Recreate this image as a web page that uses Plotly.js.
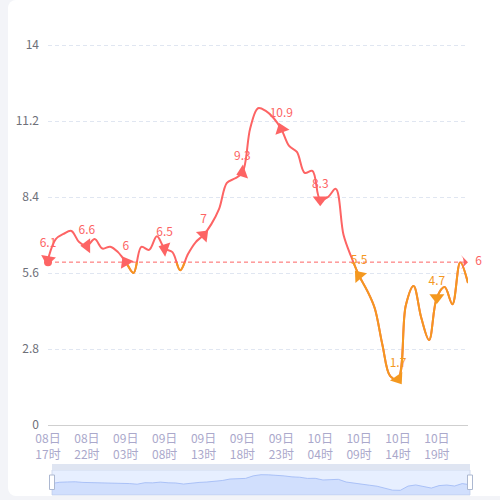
<!DOCTYPE html>
<html><head><meta charset="utf-8">
<script src="https://cdn.plot.ly/plotly-3.0.1.min.js"></script>
<style>
html,body{margin:0;padding:0;width:500px;height:500px;background:#f3f4f8;overflow:hidden}
#card{position:absolute;left:8px;top:0;width:520px;height:496px;background:#fff;border-radius:8px}
#chart{position:absolute;left:0;top:0;width:500px;height:500px}
</style></head><body>
<div id="card"></div><div id="chart"></div>
<script>
// ---------- data ----------
const categories = [
 "08日17时","08日18时","08日19时","08日20时","08日21时","08日22时","08日23时",
 "09日00时","09日01时","09日02时","09日03时","09日04时","09日05时","09日06时","09日07时",
 "09日08时","09日09时","09日10时","09日11时","09日12时","09日13时","09日14时","09日15时",
 "09日16时","09日17时","09日18时","09日19时","09日20时","09日21时","09日22时","09日23时",
 "10日00时","10日01时","10日02时","10日03时","10日04时","10日05时","10日06时","10日07时",
 "10日08时","10日09时","10日10时","10日11时","10日12时","10日13时","10日14时","10日15时",
 "10日16时","10日17时","10日18时","10日19时","10日20时","10日21时","10日22时","10日23时"
];
const values = [
 6.1, 6.85, 7.04, 7.15, 6.74, 6.6, 6.85, 6.5, 6.57, 6.37,
 6.0, 5.6, 6.56, 6.45, 6.95, 6.5, 6.37, 5.7, 6.3, 6.74,
 7.0, 7.4, 7.96, 8.92, 9.08, 9.3, 10.93, 11.67, 11.57, 11.31,
 10.9, 10.28, 10.06, 9.29, 9.36, 8.3, 8.4, 8.7, 7.0, 6.19,
 5.5, 4.97, 4.31, 2.95, 1.8, 1.7, 4.4, 5.12, 3.94, 3.13,
 4.7, 5.08, 4.45, 6.0, 5.23
];
const tickCategories = ["08日17时","08日22时","09日03时","09日08时","09日13时","09日18时",
 "09日23时","10日04时","10日09时","10日14时","10日19时"];
const tickLabels = ["08日<br>17时","08日<br>22时","09日<br>03时","09日<br>08时","09日<br>13时","09日<br>18时",
 "09日<br>23时","10日<br>04时","10日<br>09时","10日<br>14时","10日<br>19时"];
const markIndex = [0, 5, 10, 15, 20, 25, 30, 35, 40, 45, 50];
const threshold = 6;           // colour split value and dashed mark line value
const yTicks = [0, 2.8, 5.6, 8.4, 11.2, 14];
const yTickLabels = ["0", "2.8", "5.6", "8.4", "11.2", "14"];

// ---------- styles ----------
const arrowAngles = [190, 270, 330, 290, 45, 250, 340, 180, 320, 145, 180];
const RED = '#fd6464', ORANGE = '#f4981f';
const FONT = '"Noto Sans CJK SC", "Noto Sans", sans-serif';
const W = 500, H = 500;
const plotL = 48, plotR = 468, plotT = 45, plotB = 425;
const yMax = yTicks[yTicks.length - 1];
const yTop = yMax * 1.02;                         // small headroom so the top grid line is drawn
const plotTeff = plotB - (plotB - plotT) * yTop / yMax;
const xd = [plotL / W, plotR / W];
const yd = [1 - plotB / H, 1 - plotTeff / H];
const y2top = yd[0] + (yd[1] - yd[0]) * threshold / yTop;
const n = categories.length;

const markX = markIndex.map(i => categories[i]);
const markY = markIndex.map(i => values[i]);
const markText = markY.map(v => String(v));
const markColor = markY.map(v => v >= threshold ? RED : ORANGE);

// slider shadow extent
const vMin = Math.min(...values), vMax = Math.max(...values);
const pad = (vMax - vMin) * 0.3;
const sLo = vMin - pad, sHi = vMax + pad;

const traces = [
  { x: categories, y: values, xaxis: 'x', yaxis: 'y', type: 'scatter', mode: 'lines',
    line: { color: RED, width: 2, shape: 'spline', smoothing: 1 }, hoverinfo: 'skip' },
  { x: categories, y: values, xaxis: 'x2', yaxis: 'y2', type: 'scatter', mode: 'lines',
    line: { color: ORANGE, width: 2, shape: 'spline', smoothing: 1 }, hoverinfo: 'skip' },
  { x: [categories[0], categories[n - 1]], y: [threshold, threshold], xaxis: 'x4', yaxis: 'y4',
    type: 'scatter', mode: 'lines', line: { color: RED, width: 1, dash: '4px,3px' }, hoverinfo: 'skip' },
  { x: markX, y: markY, xaxis: 'x4', yaxis: 'y4', type: 'scatter', mode: 'markers+text',
    marker: { symbol: 'triangle-up', size: 13, color: markColor, angle: arrowAngles, line: { width: 0 } },
    text: markText, textposition: 'top center', textfont: { color: markColor, size: 12, family: FONT },
    cliponaxis: false, hoverinfo: 'skip' },
  { x: [categories[0]], y: [threshold], xaxis: 'x4', yaxis: 'y4', type: 'scatter', mode: 'markers',
    marker: { symbol: 'circle', size: 8, color: RED }, cliponaxis: false, hoverinfo: 'skip' },
  { x: [categories[n - 1]], y: [threshold], xaxis: 'x4', yaxis: 'y4', type: 'scatter', mode: 'markers+text',
    marker: { symbol: 'arrow-wide', size: 10, color: RED, angle: 90, line: { width: 0 } },
    text: [String(threshold)], textposition: 'middle right', textfont: { color: RED, size: 12, family: FONT },
    cliponaxis: false, hoverinfo: 'skip' },
  { x: categories, y: categories.map(() => sLo), xaxis: 'x3', yaxis: 'y3', type: 'scatter', mode: 'lines',
    line: { width: 0 }, hoverinfo: 'skip' },
  { x: categories, y: values, xaxis: 'x3', yaxis: 'y3', type: 'scatter', mode: 'lines',
    line: { color: '#9db8f5', width: 0.8 }, fill: 'tonexty', fillcolor: 'rgba(143,176,247,0.25)', hoverinfo: 'skip' }
];

const catAxis = { type: 'category', categoryorder: 'array', categoryarray: categories, range: [0, n - 1], fixedrange: true };
const sx0 = 52 / W, sx1 = 470 / W;
const layout = {
  width: W, height: H, margin: { l: 0, r: 0, t: 0, b: 0 },
  paper_bgcolor: 'rgba(0,0,0,0)', plot_bgcolor: 'rgba(0,0,0,0)',
  showlegend: false, hovermode: false, font: { family: FONT },
  xaxis: Object.assign({}, catAxis, { domain: xd, anchor: 'y',
    tickvals: tickCategories, ticktext: tickLabels, showgrid: false, zeroline: false,
    showline: true, linecolor: '#cfcfcf', linewidth: 1, ticks: '',
    tickfont: { color: '#aaa8cb', size: 12, family: FONT }, ticklabelstandoff: 3 }),
  yaxis: { domain: yd, anchor: 'x', range: [0, yTop], tickvals: yTicks, ticktext: yTickLabels,
    showgrid: true, gridcolor: '#e0e6f1', griddash: '4px,3px', gridwidth: 1, zeroline: false,
    showline: false, ticks: '', tickfont: { color: '#6e7079', size: 12, family: FONT },
    ticklabelstandoff: 8, fixedrange: true },
  xaxis2: Object.assign({}, catAxis, { domain: xd, anchor: 'y2', visible: false }),
  yaxis2: { domain: [yd[0], y2top], anchor: 'x2', range: [0, threshold], visible: false, fixedrange: true },
  xaxis3: Object.assign({}, catAxis, { domain: [sx0, sx1], anchor: 'y3', visible: false }),
  yaxis3: { domain: [1 - 495 / H, 1 - 470 / H], anchor: 'x3', range: [sLo, sHi], visible: false, fixedrange: true },
  xaxis4: Object.assign({}, catAxis, { domain: xd, anchor: 'y4', visible: false }),
  yaxis4: { domain: yd, anchor: 'x4', range: [0, yTop], visible: false, fixedrange: true },
  shapes: [
    { type: 'rect', xref: 'paper', yref: 'paper', x0: sx0, x1: sx1, y0: 1 - 495 / H, y1: 1 - 470 / H,
      fillcolor: 'rgba(135,175,255,0.2)', line: { color: '#d2dbee', width: 1 }, layer: 'below' },
    { type: 'rect', xref: 'paper', yref: 'paper', x0: sx0, x1: sx1, y0: 1 - 470 / H, y1: 1 - 464 / H,
      fillcolor: '#dfe5f2', line: { width: 0 }, layer: 'below' },
    { type: 'rect', xref: 'paper', yref: 'paper', x0: 49.5 / W, x1: 54.5 / W, y0: 1 - 489.5 / H, y1: 1 - 475 / H,
      fillcolor: '#ffffff', line: { color: '#acb8d1', width: 1 } },
    { type: 'rect', xref: 'paper', yref: 'paper', x0: 467.5 / W, x1: 472.5 / W, y0: 1 - 489.5 / H, y1: 1 - 475 / H,
      fillcolor: '#ffffff', line: { color: '#acb8d1', width: 1 } }
  ]
};

Plotly.newPlot('chart', traces, layout, { displayModeBar: false, staticPlot: true });
</script>
</body></html>
